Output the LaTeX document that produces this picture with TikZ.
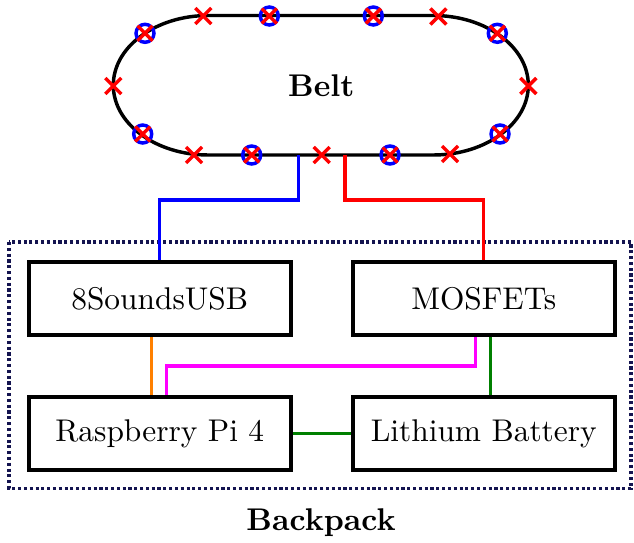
\documentclass[tikz,border=0pt]{standalone}
\usetikzlibrary{calc}
\definecolor{packnavy}{RGB}{20,20,80}
\definecolor{wmagenta}{RGB}{255,0,255}
\definecolor{worange}{RGB}{255,128,0}
\definecolor{wgreen}{RGB}{0,128,0}
\tikzset{
  box/.style={draw,line width=1.2pt,minimum width=83.4pt,minimum height=23.2pt,inner sep=0pt},
  wire/.style={line width=1.1pt},
  crossmark/.pic={\draw[red,line width=1.1pt] (-8,-8)--(8,8) (-8,8)--(8,-8);},
  ringmark/.pic={\draw[blue,line width=1.1pt] (0,0) circle[radius=9];
                 \draw[red,line width=1.1pt] (-7.5,-7.5)--(7.5,7.5) (-7.5,7.5)--(7.5,-7.5);}
}
\begin{document}
\begin{tikzpicture}[x=0.3185pt,y=-0.3185pt]
\useasboundingbox (0,0) rectangle (634,542);

% belt
\draw[line width=1.1pt] (208.3,15.5) -- (433.3,15.5)
  arc[start angle=-90,end angle=90,x radius=95,y radius=69.75]
  -- (208.3,155)
  arc[start angle=90,end angle=270,x radius=95,y radius=69.75] -- cycle;
\node[font=\bfseries,anchor=base] (belt) at (321.3,96.5) {Belt};

% markers
\pic at (203.3,16) {crossmark};
\pic at (269.3,16) {ringmark};
\pic at (373.3,16) {ringmark};
\pic at (438.3,16.5) {crossmark};
\pic at (145,33.3) {ringmark};
\pic at (497.3,33.3) {ringmark};
\pic at (113.3,86) {crossmark};
\pic at (528.3,86) {crossmark};
\pic at (142.7,134) {ringmark};
\pic at (500,134) {ringmark};
\pic at (194,155) {crossmark};
\pic at (251.7,155) {ringmark};
\pic at (321.7,155) {crossmark};
\pic at (390,155) {ringmark};
\pic at (450,154) {crossmark};

% backpack
\draw[packnavy,line width=1pt,dash pattern=on 1pt off 0.85pt] (9,242) rectangle (631,488.5);
\node[font=\bfseries,anchor=base] (pack) at (321,530) {Backpack};

\node[box] (us) at (159.75,298.75) {8SoundsUSB};
\node[box] (mos) at (483.75,298.75) {MOSFETs};
\node[box] (rpi) at (159.75,433.7) {Raspberry Pi 4};
\node[box] (bat) at (483.75,433.7) {Lithium Battery};

% connectors
\coordinate (bL) at (298.3,155);
\coordinate (bR) at (345,155);
\draw[wire,blue] (bL) -- ++(0,45) -| (us.north);
\draw[wire,red] (bR) -- ++(0,45) -| (mos.north);

\coordinate (o1) at ($(us.south)+(-8,0)$);
\coordinate (o2) at ($(rpi.north)+(-8,0)$);
\draw[wire,worange] (o1) -- (o2);

\coordinate (m1) at ($(mos.south)+(-8,0)$);
\coordinate (m2) at ($(rpi.north)+(7,0)$);
\coordinate (mh) at (0,366);
\draw[wire,wmagenta] (m1) -- (m1 |- mh) -| (m2);

\coordinate (g1) at ($(mos.south)+(7,0)$);
\coordinate (g2) at ($(bat.north)+(7,0)$);
\draw[wire,wgreen] (g1) -- (g2);
\draw[wire,wgreen] (rpi.east) -- (bat.west);
\end{tikzpicture}
\end{document}
